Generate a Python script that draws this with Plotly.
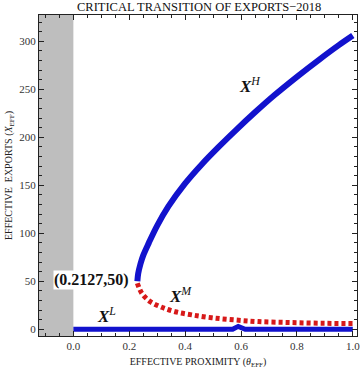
import plotly.graph_objects as go

# ---- data ----
high_x = [0.229, 0.232, 0.240, 0.250, 0.270, 0.300, 0.340, 0.400, 0.460, 0.520, 0.580, 0.650, 0.720, 0.800, 0.880, 0.950, 1.0]
high_y = [50, 58, 68, 77, 90, 108, 128, 152, 172, 190, 207, 226, 244, 263, 281, 296, 306]

mid_x = [0.229, 0.245, 0.275, 0.316, 0.364, 0.424, 0.495, 0.579, 0.662, 0.780, 0.900, 1.0]
mid_y = [48, 37.5, 28.8, 23, 18.3, 15, 12, 9.7, 8, 7, 6.2, 6]

low_x = [0.0, 0.570, 0.590, 0.615, 1.0]
low_y = [0, 0, 3, 0, 0]

fold_point = (0.2127, 50)
shade_x = [-0.123, 0.0]

x_range = [-0.123, 1.015]
y_range = [-7, 327.4]

BLUE = "rgb(18,18,205)"
RED = "rgb(215,25,25)"
SERIF = "Liberation Serif, Times New Roman, serif"

fig = go.Figure()

fig.add_shape(type="rect", xref="x", yref="paper", x0=shade_x[0], x1=shade_x[1], y0=0, y1=1,
              fillcolor="rgb(190,190,190)", line=dict(width=0), layer="below")

fig.add_trace(go.Scatter(x=low_x, y=low_y, mode="lines", line=dict(color=BLUE, width=5), hoverinfo="skip"))
fig.add_trace(go.Scatter(x=mid_x, y=mid_y, mode="lines", line=dict(color=RED, width=5, dash="4px,3px", shape="spline"), hoverinfo="skip"))
fig.add_trace(go.Scatter(x=high_x, y=high_y, mode="lines", line=dict(color=BLUE, width=6, shape="spline"), hoverinfo="skip"))

ann_font = dict(family=SERIF, size=17, color="#111")
fig.add_annotation(x=0.632, y=254, text="<i><b>X</b></i><sup><i>H</i></sup>", showarrow=False, font=ann_font)
fig.add_annotation(x=0.382, y=36, text="<i><b>X</b></i><sup><i>M</i></sup>", showarrow=False, font=ann_font)
fig.add_annotation(x=0.12, y=15, text="<i><b>X</b></i><sup><i>L</i></sup>", showarrow=False, font=ann_font)
fig.add_annotation(x=fold_point[0] - 0.01, y=fold_point[1] + 1, xanchor="right",
                   text="<b>(0.2127,50)</b>", showarrow=False,
                   font=dict(family=SERIF, size=16, color="#111"), bgcolor="white", borderpad=0)

axis_common = dict(showgrid=False, zeroline=False, showline=True, linecolor="#222", linewidth=1,
                   mirror="allticks", ticks="inside", ticklen=5, tickcolor="#222", automargin=False,
                   ticklabeloverflow="allow",
                   tickfont=dict(family=SERIF, size=11, color="#333"))

fig.update_layout(
    width=360, height=372,
    margin=dict(l=39, r=3, t=15, b=36, autoexpand=False),
    paper_bgcolor="white", plot_bgcolor="white",
    showlegend=False,
    title=dict(text="CRITICAL TRANSITION OF EXPORTS\u22122018", x=0.553, xanchor="center", y=0.982, yanchor="middle",
               font=dict(family=SERIF, size=12.5, color="#111"), automargin=False),
    xaxis=dict(range=x_range, dtick=0.2, tickformat=".1f", tick0=0,
               minor=dict(dtick=0.05, ticks="inside", ticklen=3, tickcolor="#222"),
               title=dict(text="EFFECTIVE PROXIMITY (<i>θ</i><sub>EFF</sub>)", standoff=6,
                          font=dict(family=SERIF, size=10, color="#222")),
               **axis_common),
    yaxis=dict(range=y_range, dtick=50, tick0=0,
               minor=dict(dtick=10, ticks="inside", ticklen=3, tickcolor="#222"),
               title=dict(text="EFFECTIVE  EXPORTS (<i>X</i><sub>EFF</sub>)", standoff=4,
                          font=dict(family=SERIF, size=10, color="#222")),
               **axis_common),
)

fig.write_html("out.html", config={"displayModeBar": False},
               post_script="document.body.style.margin='0';document.body.style.overflow='hidden';")
